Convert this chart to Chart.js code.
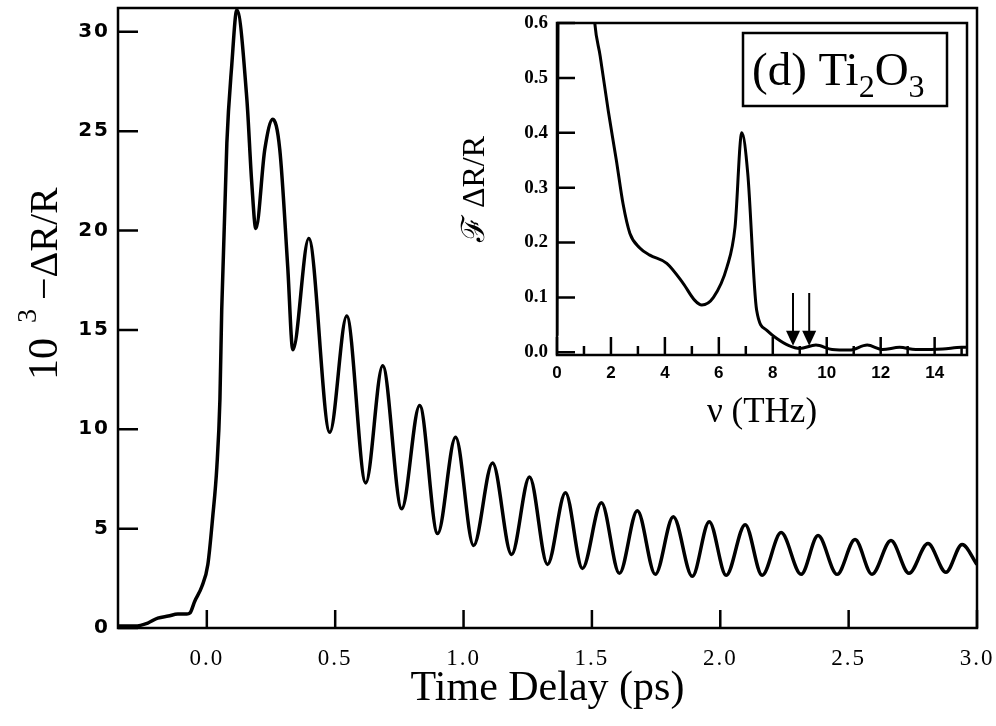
<!DOCTYPE html>
<html><head><meta charset="utf-8">
<script src="https://cdn.jsdelivr.net/npm/chart.js@4.4.1/dist/chart.umd.min.js"></script>
<style>
html,body{margin:0;padding:0;background:#fff;}
#wrap{position:relative;width:996px;height:726px;overflow:hidden;}
#main{position:absolute;left:0;top:0;width:996px;height:726px;}
#inset{position:absolute;left:430px;top:0;width:560px;height:440px;}
</style></head><body>
<div id="wrap"><canvas id="main" width="996" height="726"></canvas><canvas id="inset" width="560" height="440"></canvas></div>
<script>
// ---------- main panel data: time delay (ps) vs 10^3 (-ΔR/R) ----------
const timeDelay = [-0.346,-0.331,-0.280,-0.230,-0.191,-0.150,-0.113,-0.078,-0.066,-0.047,-0.019,0.004,0.023,0.039,0.051,0.058,0.078,0.097,0.117,0.156,0.175,0.191,0.226,0.257,0.284,0.315,0.335,0.397,0.479,0.545,0.619,0.685,0.759,0.829,0.899,0.969,1.039,1.113,1.187,1.257,1.327,1.397,1.463,1.537,1.607,1.677,1.747,1.817,1.891,1.957,2.023,2.097,2.163,2.237,2.315,2.381,2.455,2.525,2.591,2.665,2.735,2.809,2.879,2.942,3.0];
const signal    = [0.1,0.1,0.1,0.25,0.5,0.6,0.7,0.7,0.75,1.35,2.1,3.2,5.6,8.1,11.5,16.0,24.4,28.3,31.1,26.6,22.4,20.1,24.1,25.6,24.1,18.2,14.0,19.6,9.85,15.7,7.3,13.2,6.0,11.2,4.75,9.6,4.15,8.3,3.7,7.6,3.2,6.8,3.0,6.3,2.75,5.9,2.7,5.6,2.6,5.35,2.65,5.2,2.65,4.8,2.7,4.65,2.7,4.45,2.7,4.4,2.75,4.25,2.8,4.2,3.2];
const mainXTicks = [0.0,0.5,1.0,1.5,2.0,2.5,3.0];
const mainYTicks = [0,5,10,15,20,25,30];
const mainXTitle = 'Time Delay (ps)';

// ---------- inset data: Fourier transform of ΔR/R vs frequency (THz) ----------
const freq    = [0,0.06,0.5,1.0,1.4,1.6,1.9,2.2,2.45,2.7,3.07,3.44,4.07,4.67,5.1,5.37,5.8,6.3,6.6,6.85,7.07,7.4,7.78,8.15,8.6,9.0,9.6,10.2,10.85,11.5,12.07,12.7,13.3,14.3,15.0,15.2];
const fourier = [0.03,0.9,1.2,0.9,0.6,0.54,0.44,0.35,0.27,0.217,0.19,0.177,0.162,0.126,0.095,0.086,0.10,0.155,0.228,0.40,0.327,0.077,0.04,0.025,0.012,0.007,0.013,0.005,0.004,0.013,0.005,0.009,0.005,0.006,0.009,0.009];
const insetXTicks = [0,1,2,3,4,5,6,7,8,9,10,11,12,13,14,15];
const insetYTicks = [0.0,0.1,0.2,0.3,0.4,0.5,0.6];
const arrowFreqs = [8.75, 9.35];

const BLACK = '#000';
const noPad = s => { s.paddingTop = 0; s.paddingBottom = 0; s.paddingLeft = 0; s.paddingRight = 0; };

const mainDecor = {
  id: 'mainDecor',
  beforeDraw(chart) { chart.ctx.letterSpacing = '2px'; },
  beforeDatasetsDraw(chart) { chart.ctx.letterSpacing = '0px'; },
  afterDraw(chart) {
    const {ctx, chartArea: a, scales: {x, y}} = chart;
    ctx.save();
    ctx.letterSpacing = '0px';
    ctx.strokeStyle = BLACK;
    ctx.lineWidth = 2.5;
    ctx.strokeRect(a.left, a.top, a.right - a.left, a.bottom - a.top);
    ctx.beginPath();
    x.ticks.forEach(t => { const p = x.getPixelForValue(t.value); ctx.moveTo(p, a.bottom); ctx.lineTo(p, a.bottom - 18); });
    y.ticks.forEach(t => { const p = y.getPixelForValue(t.value); ctx.moveTo(a.left, p); ctx.lineTo(a.left + 20, p); });
    ctx.stroke();
    ctx.fillStyle = BLACK;
    // x axis title
    ctx.font = '42px "Liberation Serif"';
    ctx.textAlign = 'center';
    ctx.textBaseline = 'alphabetic';
    ctx.fillText(mainXTitle, (a.left + a.right) / 2, 700);
    // y axis title: 10^3 −ΔR/R (rotated)
    ctx.translate(57, 380);
    ctx.rotate(-Math.PI / 2);
    ctx.textAlign = 'left';
    ctx.font = '42px "Liberation Serif"';
    ctx.fillText('10', 0, 0);
    ctx.font = '28px "Liberation Serif"';
    ctx.fillText('3', 57, -21);
    ctx.font = '40px "Liberation Serif"';
    ctx.fillText('\u2212\u0394R/R', 80, 0);
    ctx.restore();
  }
};

new Chart(document.getElementById('main'), {
  type: 'line',
  data: { datasets: [{
    data: timeDelay.map((t, i) => ({x: t, y: signal[i]})),
    borderColor: BLACK, borderWidth: 3.5, pointRadius: 0, fill: false,
    cubicInterpolationMode: 'monotone'
  }]},
  options: {
    responsive: false, animation: false,
    layout: { padding: { top: 8, right: 19, left: 0, bottom: 0 } },
    plugins: { legend: { display: false }, tooltip: { enabled: false } },
    scales: {
      x: {
        type: 'linear', min: -0.346, max: 3.0,
        afterBuildTicks: s => { s.ticks = mainXTicks.map(v => ({value: v})); },
        afterFit: s => { s.height = 98; noPad(s); },
        grid: { display: false, drawTicks: false },
        border: { display: false },
        ticks: { color: BLACK, font: { family: 'Liberation Serif', size: 23 }, padding: 17, maxRotation: 0, autoSkip: false,
                 callback: v => Number(v).toFixed(1) },
        title: { display: false }
      },
      y: {
        type: 'linear', min: 0, max: 31.2,
        afterBuildTicks: s => { s.ticks = mainYTicks.map(v => ({value: v})); },
        afterFit: s => { s.width = 118; noPad(s); },
        grid: { display: false, drawTicks: false },
        border: { display: false },
        ticks: { color: BLACK, font: { family: 'DejaVu Sans', size: 20, weight: 'bold' }, padding: 8 }
      }
    }
  },
  plugins: [mainDecor]
});

const insetDecor = {
  id: 'insetDecor',
  afterDraw(chart) {
    const {ctx, chartArea: a, scales: {x, y}} = chart;
    ctx.save();
    ctx.strokeStyle = BLACK;
    ctx.lineWidth = 2.5;
    ctx.strokeRect(a.left, a.top, a.right - a.left, a.bottom - a.top);
    ctx.beginPath();
    x.ticks.forEach(t => { const p = x.getPixelForValue(t.value); const len = (t.value % 2 === 0) ? 18 : 9; ctx.moveTo(p, a.bottom); ctx.lineTo(p, a.bottom - len); });
    y.ticks.forEach(t => { const p = y.getPixelForValue(t.value); ctx.moveTo(a.left, p); ctx.lineTo(a.left + 18, p); });
    ctx.stroke();
    // arrows
    ctx.lineWidth = 2;
    ctx.fillStyle = BLACK;
    arrowFreqs.forEach(f => {
      const px = x.getPixelForValue(f);
      const yTop = y.getPixelForValue(0.108);
      const yTip = y.getPixelForValue(0.012);
      ctx.beginPath(); ctx.moveTo(px, yTop); ctx.lineTo(px, yTip - 10); ctx.stroke();
      ctx.beginPath(); ctx.moveTo(px - 7, yTip - 15); ctx.lineTo(px + 7, yTip - 15); ctx.lineTo(px, yTip); ctx.closePath(); ctx.fill();
    });
    // label box (d) Ti2O3
    const bw = 204, bh = 73;
    const bx = a.right - 20 - bw, by = a.top + 10;
    ctx.lineWidth = 2.5;
    ctx.strokeRect(bx, by, bw, bh);
    ctx.textBaseline = 'alphabetic';
    ctx.textAlign = 'left';
    let tx = bx + 9;
    const base = by + 52;
    ctx.font = '47px "Liberation Serif"';
    ctx.fillText('(d) Ti', tx, base); tx += ctx.measureText('(d) Ti').width;
    ctx.font = '32px "Liberation Serif"';
    ctx.fillText('2', tx, base + 12); tx += ctx.measureText('2').width;
    ctx.font = '47px "Liberation Serif"';
    ctx.fillText('O', tx, base); tx += ctx.measureText('O').width;
    ctx.font = '32px "Liberation Serif"';
    ctx.fillText('3', tx, base + 12);
    ctx.restore();
  }
};

new Chart(document.getElementById('inset'), {
  type: 'line',
  data: { datasets: [{
    data: freq.map((f, i) => ({x: f, y: fourier[i]})),
    borderColor: BLACK, borderWidth: 3, pointRadius: 0, fill: false,
    cubicInterpolationMode: 'monotone'
  }]},
  options: {
    responsive: false, animation: false,
    layout: { padding: { top: 23, right: 23, left: 0, bottom: 0 } },
    plugins: { legend: { display: false }, tooltip: { enabled: false } },
    scales: {
      x: {
        type: 'linear', min: 0, max: 15.2,
        afterBuildTicks: s => { s.ticks = insetXTicks.map(v => ({value: v})); },
        afterFit: s => { s.height = 85; noPad(s); },
        grid: { display: false, drawTicks: false },
        border: { display: false },
        ticks: { color: BLACK, font: { family: 'Liberation Sans', size: 17, weight: 'bold' }, padding: 8, maxRotation: 0, autoSkip: false,
                 callback: v => (v % 2 === 0 ? String(v) : '') },
        title: { display: true, text: '\u03BD (THz)', color: BLACK, font: { family: 'Liberation Serif', size: 35 }, padding: { top: 0, bottom: 6 } }
      },
      y: {
        type: 'linear', min: -0.005, max: 0.6,
        afterBuildTicks: s => { s.ticks = insetYTicks.map(v => ({value: v})); },
        afterFit: s => { s.width = 127; noPad(s); },
        grid: { display: false, drawTicks: false },
        border: { display: false },
        ticks: { color: BLACK, font: { family: 'Liberation Serif', size: 19, weight: 'bold' }, padding: 9,
                 callback: v => Number(v).toFixed(1) },
        title: { display: true, text: '\u2131 \u0394R/R', color: BLACK, font: { family: 'Liberation Serif', size: 32 }, padding: { top: 26, bottom: 0 } }
      }
    }
  },
  plugins: [insetDecor]
});
</script>
</body></html>
